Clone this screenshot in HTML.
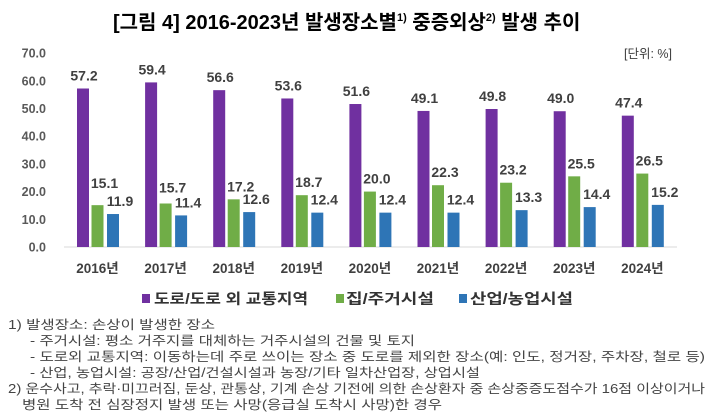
<!DOCTYPE html>
<html><head><meta charset="utf-8"><style>
body{margin:0;background:#fff;width:710px;height:419px;overflow:hidden;font-family:"Liberation Sans","Noto Sans CJK KR",sans-serif}
</style></head><body>
<svg width="710" height="419" xmlns="http://www.w3.org/2000/svg" style="position:absolute;left:0;top:0">
<text x="113" y="29" font-size="20" font-weight="bold" fill="#000" font-family="Liberation Sans,Noto Sans CJK KR,sans-serif">[그림 4] 2016-2023년 발생장소별<tspan font-size="11" dy="-8">1)</tspan><tspan dy="8"> 중증외상</tspan><tspan font-size="11" dy="-8">2)</tspan><tspan dy="8"> 발생 추이</tspan></text>
<text x="672" y="58" text-anchor="end" font-size="12.5" fill="#404040" font-family="Liberation Sans,Noto Sans CJK KR,sans-serif">[단위: %]</text>
<g font-size="12.5" font-weight="bold" fill="#595959" text-anchor="end" font-family="Liberation Sans,sans-serif" id="yl"></g>
<line x1="64" y1="247" x2="677" y2="247" stroke="#d9d9d9" stroke-width="1"/>
<g id="bars"></g>
<g font-size="14.5" fill="#333" font-weight="bold" font-family="Liberation Sans,Noto Sans CJK KR,sans-serif">
<rect x="142" y="294" width="8" height="9" fill="#7030a0"/><text x="154" y="304" textLength="154" lengthAdjust="spacingAndGlyphs">도로/도로 외 교통지역</text>
<rect x="336" y="294" width="8" height="9" fill="#70ad47"/><text x="346" y="304" textLength="88" lengthAdjust="spacingAndGlyphs">집/주거시설</text>
<rect x="459" y="294" width="8" height="9" fill="#2e75b6"/><text x="470" y="304" textLength="103" lengthAdjust="spacingAndGlyphs">산업/농업시설</text>
</g>
<g font-size="12.5" fill="#444" font-family="Liberation Sans,Noto Sans CJK KR,sans-serif">
<text x="8" y="329" textLength="207" lengthAdjust="spacingAndGlyphs">1) 발생장소: 손상이 발생한 장소</text>
<text x="30" y="345" textLength="385" lengthAdjust="spacingAndGlyphs">- 주거시설: 평소 거주지를 대체하는 거주시설의 건물 및 토지</text>
<text x="30" y="361" textLength="675" lengthAdjust="spacingAndGlyphs">- 도로외 교통지역: 이동하는데 주로 쓰이는 장소 중 도로를 제외한 장소(예: 인도, 정거장, 주차장, 철로 등)</text>
<text x="30" y="377" textLength="450" lengthAdjust="spacingAndGlyphs">- 산업, 농업시설: 공장/산업/건설시설과 농장/기타 일차산업장, 상업시설</text>
<text x="8" y="393" textLength="697" lengthAdjust="spacingAndGlyphs">2) 운수사고, 추락·미끄러짐, 둔상, 관통상, 기계 손상 기전에 의한 손상환자 중 손상중증도점수가 16점 이상이거나</text>
<text x="22" y="409" textLength="420" lengthAdjust="spacingAndGlyphs">병원 도착 전 심장정지 발생 또는 사망(응급실 도착시 사망)한 경우</text>
</g>
</svg>
<script>
const ns="http://www.w3.org/2000/svg";
const yl=document.getElementById("yl");
for(let i=0;i<=7;i++){const t=document.createElementNS(ns,"text");t.setAttribute("x",46);t.setAttribute("y",247-i*27.7+4.5);t.textContent=(i*10).toFixed(1);yl.appendChild(t);}
const d=[[57.2,15.1,11.9],[59.4,15.7,11.4],[56.6,17.2,12.6],[53.6,18.7,12.4],[51.6,20.0,12.4],[49.1,22.3,12.4],[49.8,23.2,13.3],[49.0,25.5,14.4],[47.4,26.5,15.2]];
const c=["#7030a0","#70ad47","#2e75b6"];const off=[0,14.5,30];
const g=document.getElementById("bars");
d.forEach((v,i)=>{const x0=77+i*68.1;
v.forEach((val,j)=>{const h=val*2.771;const r=document.createElementNS(ns,"rect");
r.setAttribute("x",x0+off[j]);r.setAttribute("y",247-h);r.setAttribute("width",12);r.setAttribute("height",h);r.setAttribute("fill",c[j]);g.appendChild(r);
let gap=8; if(j==1&&i==0)gap=17; if(j==1&&i==1)gap=11;
const t=document.createElementNS(ns,"text");t.setAttribute("x",x0+off[j]+6+(j>0?7:1));t.setAttribute("y",247-h-gap);t.setAttribute("text-anchor","middle");t.setAttribute("font-size","14");t.setAttribute("font-weight","bold");t.setAttribute("fill","#404040");t.setAttribute("font-family","Liberation Sans,sans-serif");t.textContent=val.toFixed(1);g.appendChild(t);});
const t=document.createElementNS(ns,"text");t.setAttribute("x",x0+20.5);t.setAttribute("y",273);t.setAttribute("text-anchor","middle");t.setAttribute("font-size","13.5");t.setAttribute("font-weight","bold");t.setAttribute("fill","#404040");t.setAttribute("font-family","Liberation Sans,Noto Sans CJK KR,sans-serif");t.textContent=(2016+i)+"년";g.appendChild(t);});
</script>
</body></html>
